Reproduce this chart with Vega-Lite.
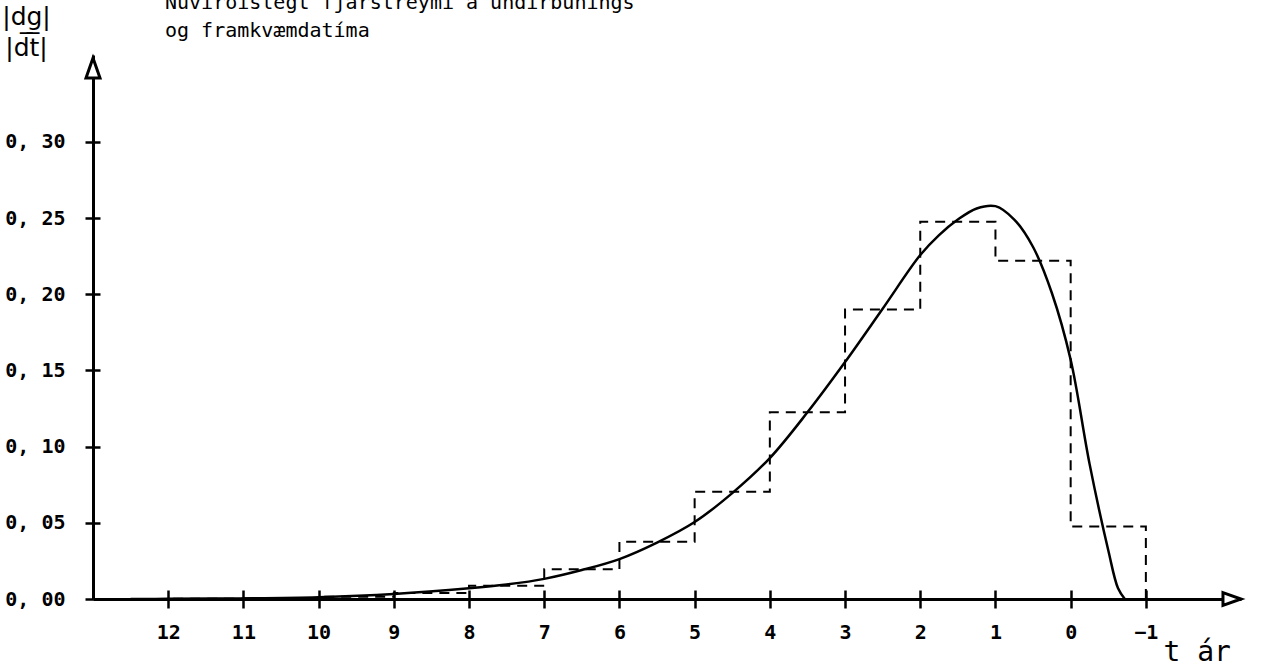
{
  "$schema": "https://vega.github.io/schema/vega-lite/v6.json",
  "width": 1148,
  "height": 544,
  "autosize": {"type": "none"},
  "padding": {"left": 93, "top": 55, "right": 35, "bottom": 70},
  "background": "white",
  "title": {
    "text": ["Núvirðislegt fjárstreymi á undirbúnings", "og framkvæmdatíma"],
    "anchor": "start",
    "frame": "group",
    "dx": 72,
    "dy": 57,
    "font": "DejaVu Sans Mono",
    "fontSize": 20,
    "fontWeight": "normal",
    "color": "black",
    "lineHeight": 28,
    "baseline": "alphabetic"
  },
  "config": {
    "view": {"stroke": null},
    "axis": {
      "grid": false,
      "domainColor": "black",
      "domainWidth": 3,
      "tickColor": "black",
      "tickWidth": 2.5,
      "labelColor": "black",
      "labelFont": "DejaVu Sans Mono",
      "labelFontSize": 19,
      "labelFontWeight": "bold",
      "titleColor": "black",
      "titleFont": "DejaVu Sans Mono",
      "titleFontWeight": "normal"
    }
  },
  "datasets": {
    "curve": [
      {"t": 12.5, "g": 0.0000},
      {"t": 12, "g": 0.0001},
      {"t": 11, "g": 0.0004},
      {"t": 10, "g": 0.0012},
      {"t": 9, "g": 0.0033},
      {"t": 8, "g": 0.0070},
      {"t": 7.5, "g": 0.0095},
      {"t": 7, "g": 0.0132},
      {"t": 6.5, "g": 0.0190},
      {"t": 6, "g": 0.0262},
      {"t": 5.5, "g": 0.0370},
      {"t": 5, "g": 0.0505},
      {"t": 4.5, "g": 0.0695},
      {"t": 4, "g": 0.0925},
      {"t": 3.5, "g": 0.1225},
      {"t": 3, "g": 0.1555},
      {"t": 2.5, "g": 0.1905},
      {"t": 2, "g": 0.2257},
      {"t": 1.75, "g": 0.2388},
      {"t": 1.5, "g": 0.2490},
      {"t": 1.25, "g": 0.2563},
      {"t": 1.0, "g": 0.2578},
      {"t": 0.75, "g": 0.2490},
      {"t": 0.5, "g": 0.2310},
      {"t": 0.25, "g": 0.2008},
      {"t": 0, "g": 0.1570},
      {"t": -0.25, "g": 0.0890},
      {"t": -0.5, "g": 0.0320},
      {"t": -0.63, "g": 0.0070},
      {"t": -0.72, "g": 0.0000}
    ],
    "steps": [
      {"k": 0, "t": -1, "g": 0},
      {"k": 1, "t": -1, "g": 0.0475},
      {"k": 2, "t": 0, "g": 0.2220},
      {"k": 3, "t": 1, "g": 0.2476},
      {"k": 4, "t": 2, "g": 0.1900},
      {"k": 5, "t": 3, "g": 0.1225},
      {"k": 6, "t": 4, "g": 0.0704},
      {"k": 7, "t": 5, "g": 0.0376},
      {"k": 8, "t": 6, "g": 0.0195},
      {"k": 9, "t": 7, "g": 0.0087},
      {"k": 10, "t": 8, "g": 0.0040},
      {"k": 11, "t": 9, "g": 0.0015},
      {"k": 12, "t": 10, "g": 0.0005},
      {"k": 13, "t": 11, "g": 0.0002},
      {"k": 14, "t": 12, "g": 0.0000}
    ]
  },
  "resolve": {"axis": {"x": "independent", "y": "independent"}},
  "layer": [
    {
      "data": {"name": "curve"},
      "mark": {"type": "line", "color": "black", "strokeWidth": 2.5, "interpolate": "catmull-rom", "clip": false},
      "encoding": {
        "x": {
          "field": "t",
          "type": "quantitative",
          "scale": {"domain": [-2.265, 13], "reverse": true, "nice": false, "zero": false},
          "axis": {
            "orient": "bottom",
            "values": [-1, 0, 1, 2, 3, 4, 5, 6, 7, 8, 9, 10, 11, 12],
            "tickSize": 9,
            "labelPadding": 14,
            "labelFontSize": 20,
            "labelFlush": false,
            "labelOverlap": false,
            "title": "t ár",
            "titleFontSize": 28,
            "titleAnchor": "start",
            "titleAlign": "left",
            "titleBaseline": "alphabetic",
            "titleX": 1070,
            "titleY": 61
          }
        },
        "y": {
          "field": "g",
          "type": "quantitative",
          "scale": {"domain": [0, 0.357], "nice": false, "zero": true},
          "axis": {
            "orient": "left",
            "values": [0, 0.05, 0.1, 0.15, 0.2, 0.25, 0.3],
            "labelExpr": "replace(format(datum.value, '.2f'), '.', ', ')",
            "tickSize": 8,
            "labelPadding": 20,
            "labelFontSize": 20,
            "labelFlush": false,
            "labelOverlap": false,
            "title": ["|dg|", "|d̅t̅|"],
            "titleFont": "DejaVu Sans",
            "titleAngle": 0,
            "titleFontSize": 25,
            "titleLineHeight": 31,
            "titleAlign": "center",
            "titleBaseline": "top",
            "titleX": -67,
            "titleY": -51
          }
        }
      }
    },
    {
      "data": {"name": "steps"},
      "mark": {"type": "line", "color": "black", "strokeWidth": 2, "strokeDash": [10, 7], "interpolate": "step-after"},
      "encoding": {
        "x": {
          "field": "t",
          "type": "quantitative",
          "axis": {
            "orient": "bottom",
            "offset": -9,
            "values": [-1, 0, 1, 2, 3, 4, 5, 6, 7, 8, 9, 10, 11, 12],
            "tickSize": 9,
            "labels": false,
            "domain": false,
            "title": null
          }
        },
        "y": {
          "field": "g",
          "type": "quantitative",
          "axis": {
            "orient": "left",
            "offset": -7,
            "values": [0, 0.05, 0.1, 0.15, 0.2, 0.25, 0.3],
            "tickSize": 7,
            "labels": false,
            "domain": false,
            "title": null
          }
        },
        "order": {"field": "k", "type": "quantitative"}
      }
    },
    {
      "data": {"values": [{}]},
      "mark": {"type": "point", "shape": "M-0.7,1L0,-1L0.7,1Z", "size": 400, "filled": true, "fill": "white", "stroke": "black", "strokeWidth": 3, "opacity": 1, "clip": false},
      "encoding": {
        "x": {"datum": 13, "type": "quantitative", "axis": null},
        "y": {"datum": 0.3484, "type": "quantitative", "axis": null}
      }
    },
    {
      "data": {"values": [{}]},
      "mark": {"type": "point", "shape": "M-1,-0.7L1,0L-1,0.7Z", "size": 324, "filled": true, "fill": "white", "stroke": "black", "strokeWidth": 3, "opacity": 1, "clip": false},
      "encoding": {
        "x": {"datum": -2.145, "type": "quantitative", "axis": null},
        "y": {"datum": 0, "type": "quantitative", "axis": null}
      }
    }
  ]
}
